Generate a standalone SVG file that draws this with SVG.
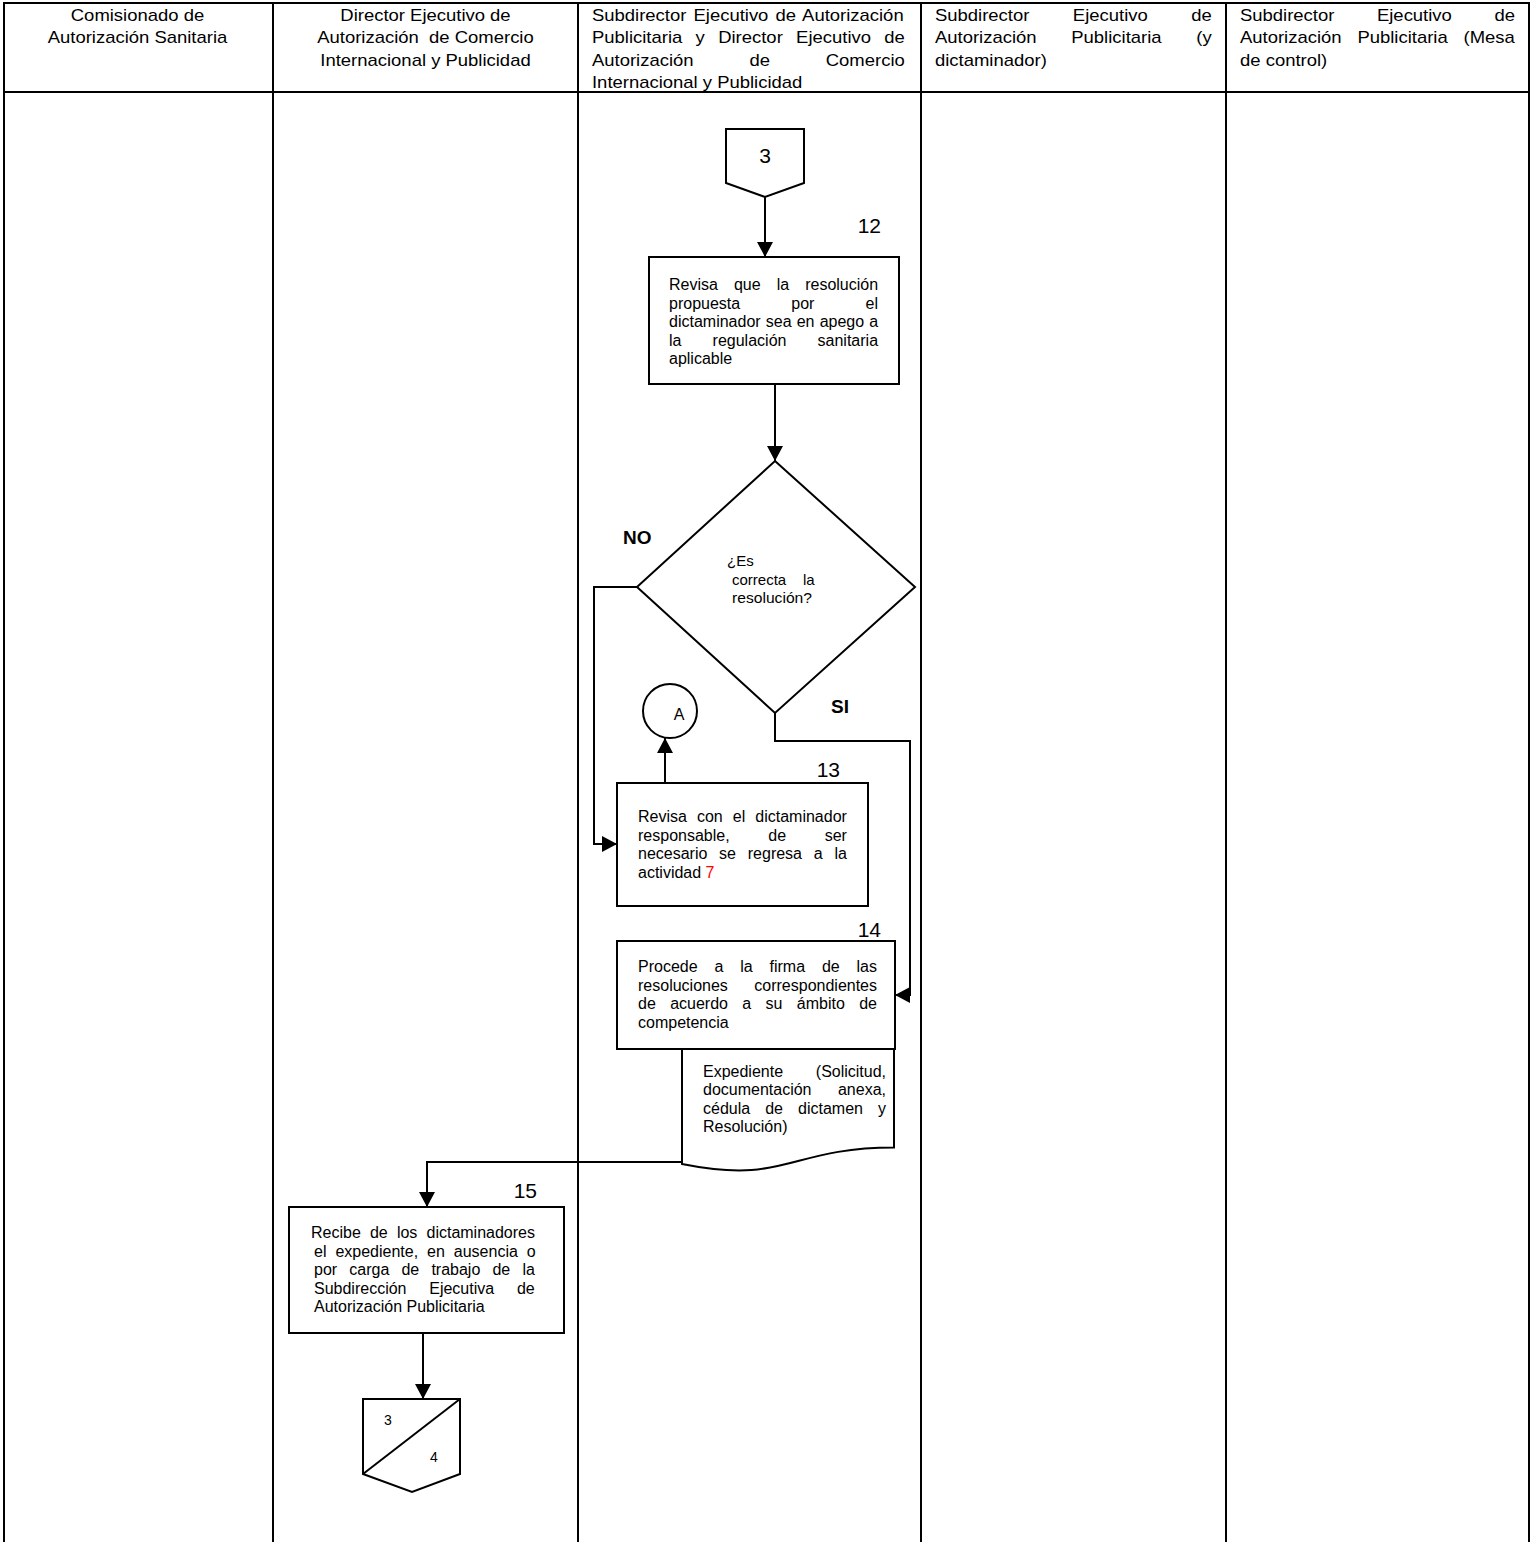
<svg xmlns="http://www.w3.org/2000/svg" width="1531" height="1542" viewBox="0 0 1531 1542">
<style>
text { font-family: "Liberation Sans", Arial, sans-serif; fill: #000; }
.h { font-size: 16px; }
.b { font-size: 16px; }
.d { font-size: 15px; }
.num { font-size: 21px; }
.lbl { font-size: 19px; font-weight: bold; }
.sm { font-size: 14px; }
.grid { stroke: #000; stroke-width: 2; fill: none; }
.shape { fill: #fff; stroke: #000; stroke-width: 2; }
.ln { fill: none; stroke: #000; stroke-width: 2; }
.red { fill: #ff0000; }
</style>
<defs>
<marker id="arr" viewBox="0 0 15 16" refX="15" refY="8" markerWidth="15" markerHeight="16" markerUnits="userSpaceOnUse" orient="auto">
<path d="M0,0 L15,8 L0,16 Z" fill="#000"/>
</marker>
</defs>
<rect width="1531" height="1542" fill="#fff"/>

<g id="table">
<path class="grid" d="M4,1542 V3 H1529 V1542 M273,3 V1542 M578,3 V1542 M921,3 V1542 M1226,3 V1542 M4,92 H1529"/>
</g>

<g id="header" class="h" transform="scale(1.155,1)">
<text x="119.05" y="21" text-anchor="middle">Comisionado de</text>
<text x="119.05" y="43.5" text-anchor="middle">Autorización Sanitaria</text>
<text x="368.4" y="21" text-anchor="middle">Director Ejecutivo de</text>
<text x="368.4" y="43.5" text-anchor="middle" xml:space="preserve">Autorización  de Comercio</text>
<text x="368.4" y="66" text-anchor="middle">Internacional y Publicidad</text>
<text x="512.55" y="21" word-spacing="1.7">Subdirector Ejecutivo de Autorización</text>
<text x="512.55" y="43.5" word-spacing="7.1">Publicitaria y Director Ejecutivo de</text>
<text x="512.55" y="66" word-spacing="43.9">Autorización de Comercio</text>
<text x="512.55" y="88.5">Internacional y Publicidad</text>
<text x="809.5" y="21" word-spacing="33.2">Subdirector Ejecutivo de</text>
<text x="809.5" y="43.5" word-spacing="25.6">Autorización Publicitaria (y</text>
<text x="809.5" y="66">dictaminador)</text>
<text x="1073.6" y="21" word-spacing="32.4">Subdirector Ejecutivo de</text>
<text x="1073.6" y="43.5" word-spacing="9.25">Autorización Publicitaria (Mesa</text>
<text x="1073.6" y="66">de control)</text>
</g>

<g id="connectors">
<path class="ln" d="M765,197 V257" marker-end="url(#arr)"/>
<path class="ln" d="M775,384 V461" marker-end="url(#arr)"/>
<path class="ln" d="M637,587 H594 V844 H617" marker-end="url(#arr)"/>
<path class="ln" d="M775,713 V741 H910 V995 H895" marker-end="url(#arr)"/>
<path class="ln" d="M665,783 V738" marker-end="url(#arr)"/>
<path class="ln" d="M682,1162 H427 V1207" marker-end="url(#arr)"/>
<path class="ln" d="M423,1333 V1399" marker-end="url(#arr)"/>
</g>

<g id="offpage-3">
<polygon class="shape" points="726,129 804,129 804,183 765,197 726,183"/>
<text class="num" x="765" y="163" text-anchor="middle">3</text>
</g>

<g id="act-12">
<rect class="shape" x="649" y="257" width="250" height="127"/>
<text class="num" x="881" y="232.5" text-anchor="end">12</text>
<text class="b" x="669" y="290" word-spacing="11.6">Revisa que la resolución</text>
<text class="b" x="669" y="308.5" word-spacing="46.7">propuesta por el</text>
<text class="b" x="669" y="327" word-spacing="0.7">dictaminador sea en apego a</text>
<text class="b" x="669" y="345.5" word-spacing="26.7">la regulación sanitaria</text>
<text class="b" x="669" y="364">aplicable</text>
</g>

<g id="decision">
<polygon class="shape" points="775,461 915,587 775,713 637,587"/>
<text class="d" x="727" y="566">¿Es</text>
<text class="d" x="732" y="584.5" word-spacing="12.6">correcta la</text>
<text class="d" x="732" y="603" textLength="80" lengthAdjust="spacingAndGlyphs">resolución?</text>
<text class="lbl" x="623" y="544">NO</text>
<text class="lbl" x="831" y="713">SI</text>
</g>

<g id="connector-A">
<circle class="shape" cx="670" cy="711" r="27"/>
<text class="b" x="679" y="720" text-anchor="middle">A</text>
</g>

<g id="act-13">
<rect class="shape" x="617" y="783" width="251" height="123"/>
<text class="num" x="840" y="777" text-anchor="end">13</text>
<text class="b" x="638" y="822" word-spacing="5.6">Revisa con el dictaminador</text>
<text class="b" x="638" y="840.5" word-spacing="34.2">responsable, de ser</text>
<text class="b" x="638" y="859" word-spacing="7.3">necesario se regresa a la</text>
<text class="b" x="638" y="877.5">actividad <tspan class="red">7</tspan></text>
</g>

<g id="document">
<path class="shape" d="M682,1049 H894 V1147.6 C788,1147.6 788,1185.2 682,1164 Z"/>
<text class="b" x="703" y="1076.5" word-spacing="28.3">Expediente (Solicitud,</text>
<text class="b" x="703" y="1095" word-spacing="22">documentación anexa,</text>
<text class="b" x="703" y="1113.5" word-spacing="10.6">cédula de dictamen y</text>
<text class="b" x="703" y="1132">Resolución)</text>
</g>

<g id="act-14">
<rect class="shape" x="617" y="941" width="278" height="108"/>
<text class="num" x="881" y="937" text-anchor="end">14</text>
<text class="b" x="638" y="972" word-spacing="12.4">Procede a la firma de las</text>
<text class="b" x="638" y="990.5" word-spacing="22">resoluciones correspondientes</text>
<text class="b" x="638" y="1009" word-spacing="9.9">de acuerdo a su ámbito de</text>
<text class="b" x="638" y="1027.5">competencia</text>
</g>

<g id="act-15">
<rect class="shape" x="289" y="1207" width="275" height="126"/>
<text class="num" x="537" y="1198" text-anchor="end">15</text>
<text class="b" x="311" y="1238" word-spacing="4.7">Recibe de los dictaminadores</text>
<text class="b" x="314" y="1256.5" word-spacing="4.5">el expediente, en ausencia o</text>
<text class="b" x="314" y="1275" word-spacing="7.7">por carga de trabajo de la</text>
<text class="b" x="314" y="1293.5" word-spacing="18.3">Subdirección Ejecutiva de</text>
<text class="b" x="314" y="1312">Autorización Publicitaria</text>
</g>

<g id="offpage-3-4">
<polygon class="shape" points="363,1399 460,1399 460,1474 412,1492 363,1474"/>
<line class="ln" x1="363" y1="1474" x2="460" y2="1399"/>
<text class="sm" x="388" y="1425" text-anchor="middle">3</text>
<text class="sm" x="434" y="1462" text-anchor="middle">4</text>
</g>
</svg>
